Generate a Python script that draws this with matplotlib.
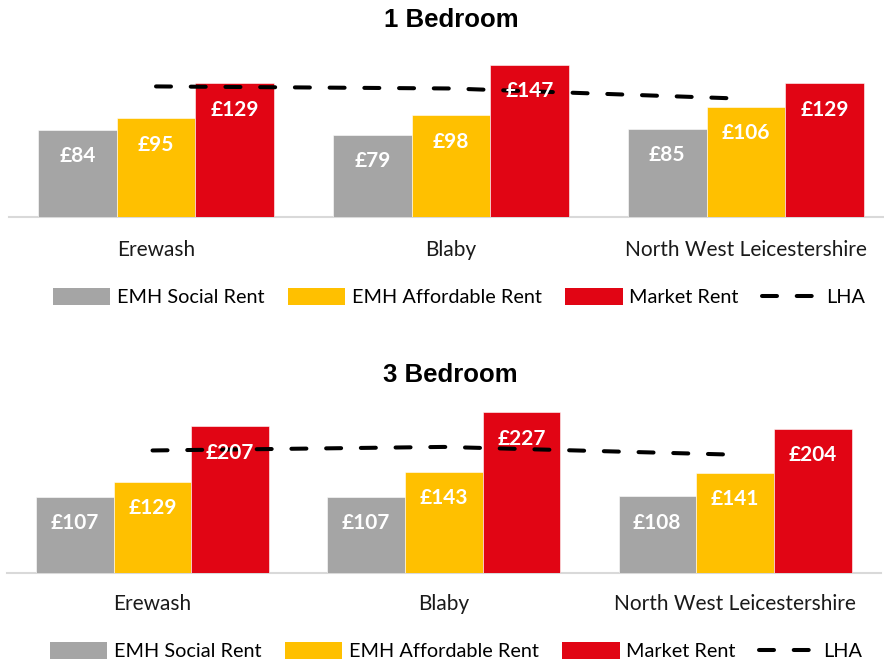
import matplotlib
matplotlib.use("Agg")
import matplotlib.pyplot as plt
from matplotlib.lines import Line2D
from matplotlib.patches import Patch
import numpy as np

areas = ["Erewash", "Blaby", "North West Leicestershire"]
series_names = ["EMH Social Rent", "EMH Affordable Rent", "Market Rent"]
colors = ["#A5A5A5", "#FFC000", "#E10514"]

bed1_social = [84, 79, 85]
bed1_affordable = [95, 98, 106]
bed1_market = [129, 147, 129]
bed1_lha = [126, 124, 114]

bed3_social = [107, 107, 108]
bed3_affordable = [129, 143, 141]
bed3_market = [207, 227, 204]
bed3_lha = [173, 178, 167]

W, H = 884, 664
LABEL_FONT = "Lato"
TITLE_FONT = "Liberation Sans"

plt.rcParams["lines.scale_dashes"] = False
LHA_DASH = (10.8, 14.2)


def draw_panel(fig, rect, title, title_xy, legend_xy, values, lha, ymax, pad):
    ax = fig.add_axes(rect)
    x = np.arange(len(areas))
    bw = 0.8 / 3
    for i, (vals, col) in enumerate(zip(values, colors)):
        bars = ax.bar(x + (i - 1) * bw, vals, bw, color=col, edgecolor="white",
                      linewidth=0.4, zorder=2)
        for b, v in zip(bars, vals):
            ax.annotate(f"£{v}", (b.get_x() + b.get_width() / 2, v),
                        xytext=(0, -19), textcoords="offset points",
                        ha="center", va="center", color="white",
                        fontsize=15, fontweight="bold", family=LABEL_FONT,
                        zorder=5)
    ax.plot(x, lha, color="black", lw=2.9, dashes=LHA_DASH,
            solid_capstyle="round", dash_capstyle="round", zorder=4)
    ax.set_xlim(-0.5, 2.5)
    ax.set_ylim(0, ymax)
    ax.set_xticks(x)
    ax.set_xticklabels(areas, family=LABEL_FONT, fontsize=15, color="#1a1a1a")
    ax.tick_params(axis="x", length=0, pad=pad)
    ax.set_yticks([])
    for s in ["top", "left", "right"]:
        ax.spines[s].set_visible(False)
    ax.spines["bottom"].set_color("#D9D9D9")
    ax.spines["bottom"].set_linewidth(1.5)
    ax.spines["bottom"].set_zorder(1)

    fig.text(title_xy[0] / W, 1 - title_xy[1] / H, title, ha="center",
             va="center", fontsize=18.5, fontweight="bold", family=TITLE_FONT)

    handles = [Patch(facecolor=c, edgecolor="none") for c in colors]
    handles.append(Line2D([], [], color="black", lw=2.9, dashes=LHA_DASH,
                          dash_capstyle="round"))
    fig.legend(handles, series_names + ["LHA"], loc="center",
               bbox_to_anchor=(legend_xy[0] / W, 1 - legend_xy[1] / H),
               ncol=4, frameon=False, handlelength=2.9, handleheight=0.95,
               handletextpad=0.35, columnspacing=1.15,
               prop={"family": LABEL_FONT, "size": 14.3})
    return ax


fig = plt.figure(figsize=(W / 100, H / 100), dpi=100)

draw_panel(fig, [8.5 / W, 1 - 216.7 / H, 885 / W, 171.7 / H], "1 Bedroom",
           (451.5, 20), (459, 297),
           [bed1_social, bed1_affordable, bed1_market], bed1_lha,
           171.7 / 1.034, 17)
draw_panel(fig, [6.9 / W, 1 - 572.7 / H, 873.75 / W, 172.7 / H], "3 Bedroom",
           (450, 375), (456, 651),
           [bed3_social, bed3_affordable, bed3_market], bed3_lha,
           172.7 / 0.7066, 15)

fig.savefig("out.png", dpi=100)
